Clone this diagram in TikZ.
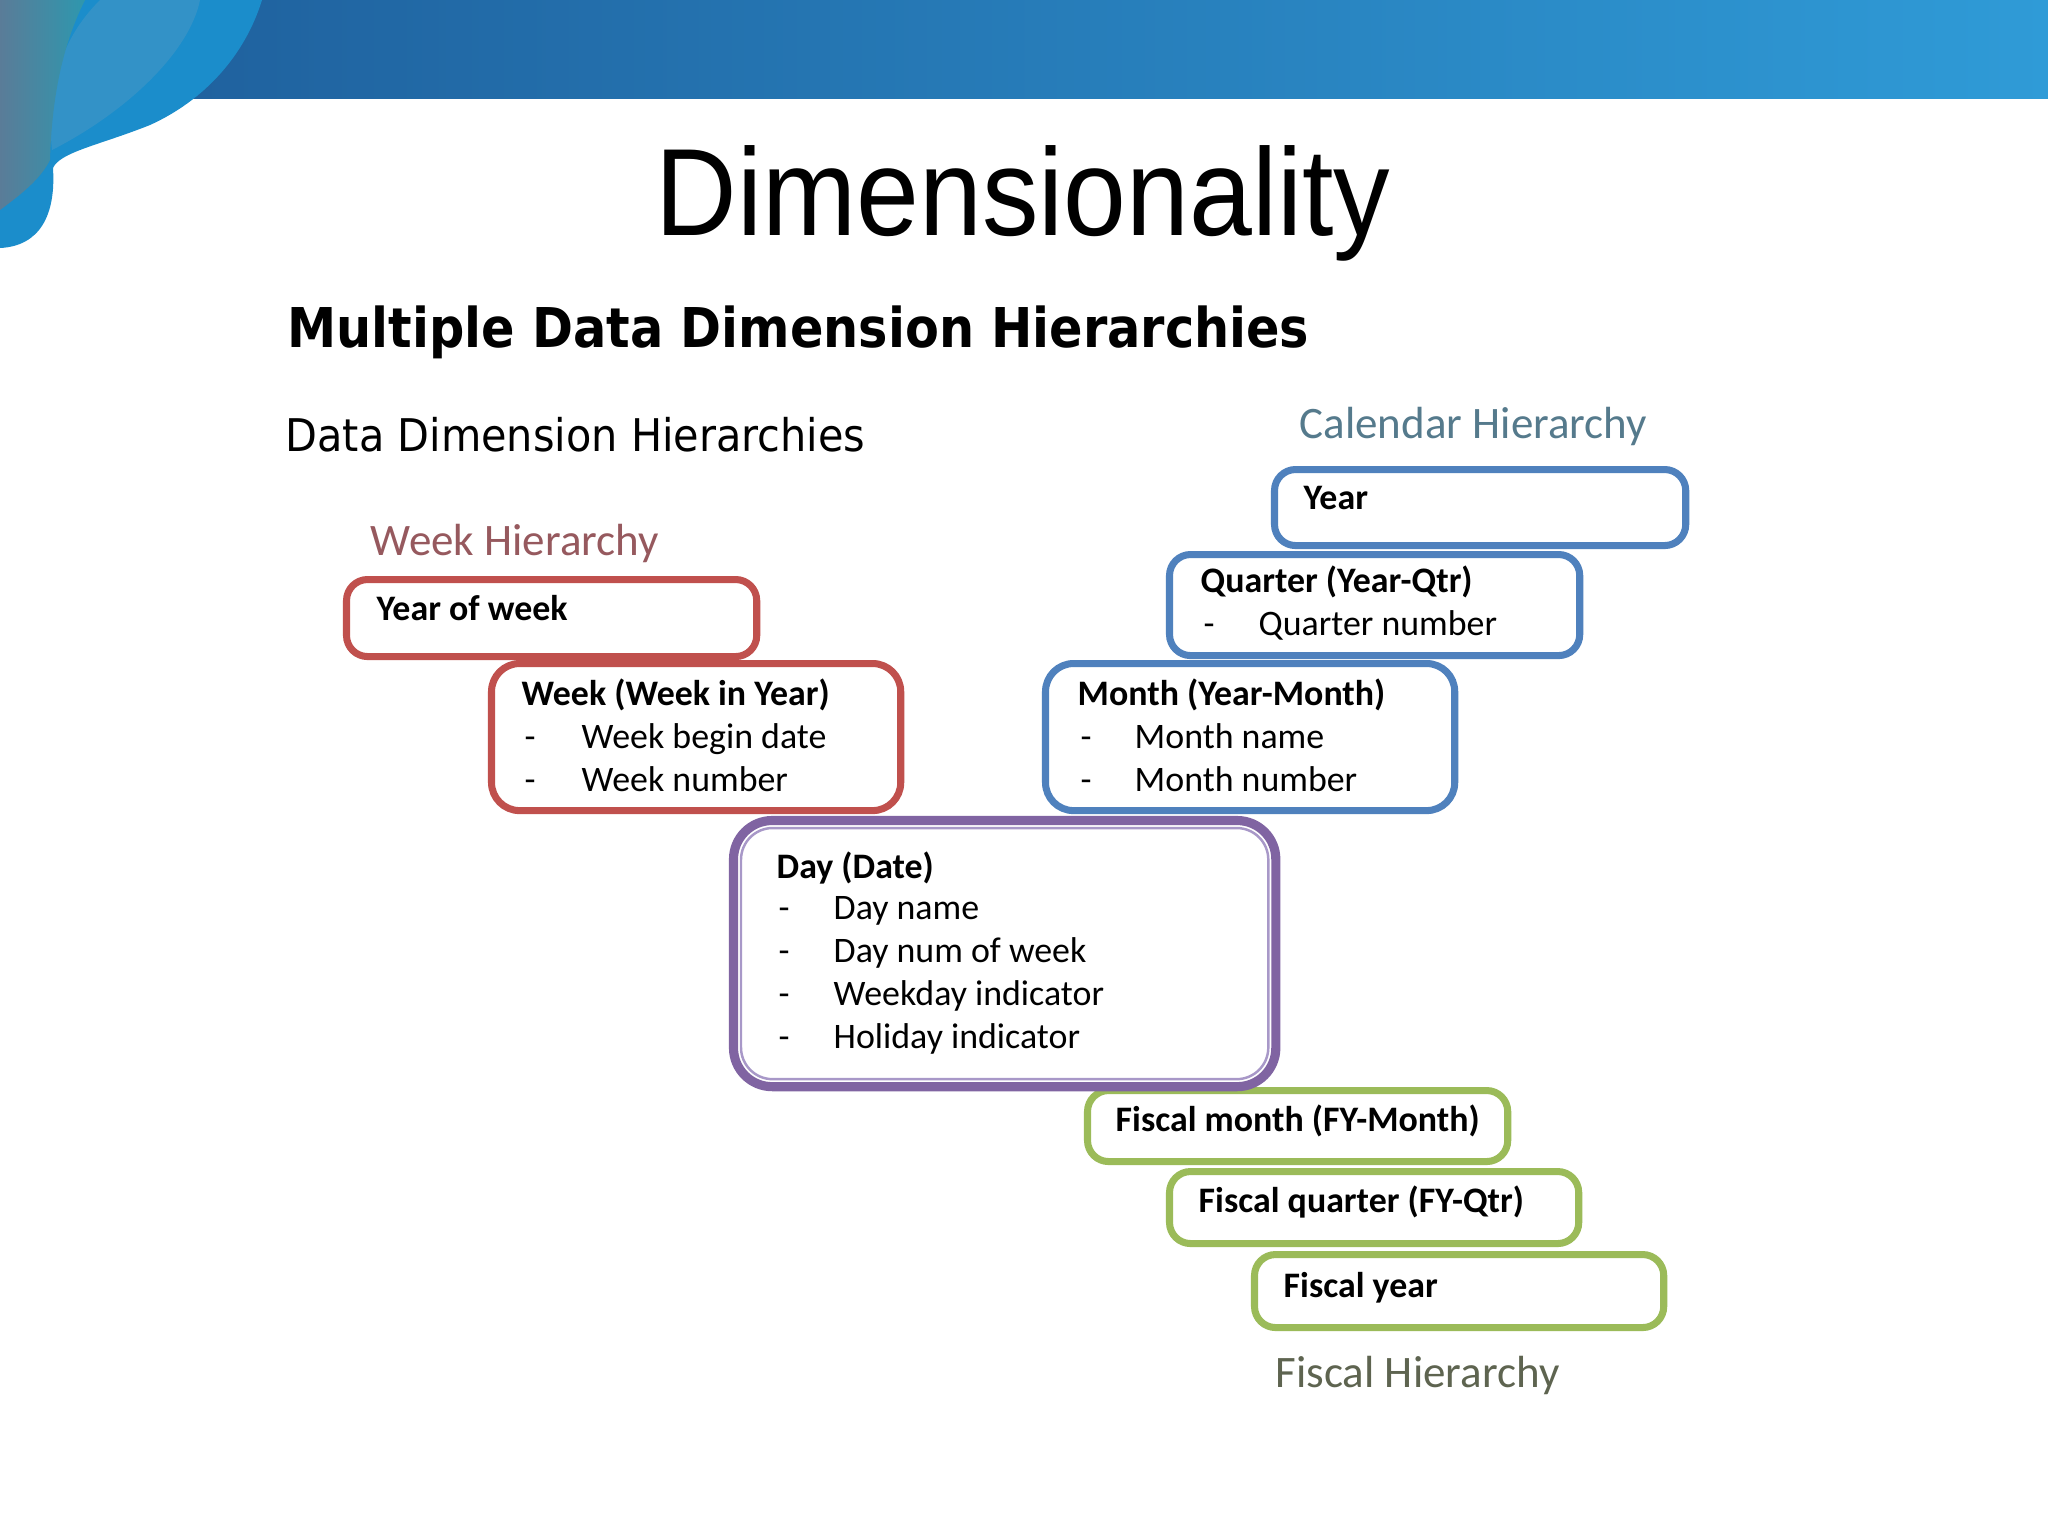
\documentclass[tikz,border=0pt]{standalone}
\usepackage{graphicx}
\usepackage{fontspec}
\setmainfont{Carlito}
\newfontfamily\titlefont{Liberation Sans}
\newfontfamily\headfont{DejaVu Sans}
\usetikzlibrary{positioning}

\definecolor{bandL}{HTML}{1E5C99}
\definecolor{bandR}{HTML}{2F9BD7}
\definecolor{swblue}{HTML}{1B8DCB}
\definecolor{swlight}{HTML}{3E95C6}
\definecolor{swgreyL}{HTML}{5A7C98}
\definecolor{swgreyR}{HTML}{2E97AE}
\definecolor{wkred}{HTML}{C0504D}
\definecolor{calblue}{HTML}{4F81BD}
\definecolor{fisgreen}{HTML}{9BBB59}
\definecolor{daypurple}{HTML}{8064A2}
\definecolor{daylav}{HTML}{A898C8}
\definecolor{wklabel}{HTML}{96595E}
\definecolor{callabel}{HTML}{557A8C}
\definecolor{fislabel}{HTML}{5E6450}

\tikzset{
  hbox/.style={draw, fill=white, line width=2pt, rounded corners=6pt,
    inner sep=0pt, outer sep=0pt, anchor=north west},
  wkbox/.style={hbox, draw=wkred},
  calbox/.style={hbox, draw=calblue},
  fisbox/.style={hbox, draw=fisgreen},
  boxtitle/.style={font=\fontsize{10.2}{12}\selectfont\bfseries,
    anchor=base west, inner sep=0pt},
  boxitem/.style={font=\fontsize{10.2}{12}\selectfont,
    anchor=base west, inner sep=0pt},
  hierlabel/.style={font=\fontsize{12.8}{15}\selectfont,
    anchor=base west, inner sep=0pt},
}

\begin{document}
\begin{tikzpicture}[x=0.01cm, y=-0.01cm]
\useasboundingbox (0,0) rectangle (2048,1535);
\fill[white] (0,0) rectangle (2048,1535);

% header band and swoosh
\shade[left color=bandL, right color=bandR] (0,0) rectangle (2048,98);
\fill[swblue] (40,0) -- (262,0) .. controls (245,55) and (205,100) .. (150,125)
  .. controls (100,145) and (60,152) .. (53,168)
  .. controls (56,215) and (40,246) .. (0,248) -- (0,0) -- cycle;
\fill[swlight, opacity=0.7] (100,0) -- (200,0) .. controls (190,50) and (130,110) .. (52,150)
  .. controls (46,90) and (60,40) .. (100,0) -- cycle;
\shade[left color=swgreyL, right color=swgreyR] (0,0) -- (85,0)
  .. controls (65,40) and (52,90) .. (50,160)
  .. controls (40,180) and (20,195) .. (0,210) -- cycle;

% headings
\node[font=\titlefont\fontsize{35.3}{40}\selectfont, anchor=base, inner sep=0pt]
  (title) at (1023,235) {\scalebox{0.91}[1]{Dimensionality}};
\node[font=\headfont\bfseries\fontsize{15.6}{18}\selectfont, anchor=base west, inner sep=0pt]
  (subtitle) at (287,347) {\scalebox{0.9}[1]{Multiple Data Dimension Hierarchies}};
\node[font=\headfont\fontsize{12.8}{15}\selectfont, anchor=base west, inner sep=0pt]
  (ddh) at (285,451) {\scalebox{0.92}[1]{Data Dimension Hierarchies}};

% Week hierarchy
\node[hierlabel, text=wklabel] (wklab) at (370,555) {Week Hierarchy};
\node[wkbox, minimum width=4.10cm, minimum height=0.77cm] (yearwk) at (346.5,579.5) {};
\node[wkbox, rounded corners=8pt, minimum width=4.09cm, minimum height=1.47cm] (week) at (491.5,663.5) {};
\node[boxtitle] (yearwkt) at (376,620) {Year of week};
\node[boxtitle] (weekt) at (521,705) {Week (Week in Year)};
\foreach \t [count=\i] in {Week begin date, Week number} {
  \node[boxitem] (weekd\i) at (524,705+43*\i) {-};
  \node[boxitem] (weeki\i) at (581,705+43*\i) {\t};
}

% Calendar hierarchy
\node[hierlabel, text=callabel] (callab) at (1299,438) {Calendar Hierarchy};
\node[calbox, minimum width=4.11cm, minimum height=0.76cm] (year) at (1274.5,469.5) {};
\node[calbox, minimum width=4.10cm, minimum height=1.01cm] (quarter) at (1169.5,554.5) {};
\node[calbox, rounded corners=8pt, minimum width=4.09cm, minimum height=1.47cm] (month) at (1045.5,663.5) {};
\node[boxtitle] (yeart) at (1303,509) {Year};
\node[boxtitle] (quartert) at (1200,592) {Quarter (Year-Qtr)};
\node[boxitem] (quarterd1) at (1203,635) {-};
\node[boxitem] (quarteri1) at (1258,635) {Quarter number};
\node[boxtitle] (montht) at (1077,705) {Month (Year-Month)};
\foreach \t [count=\i] in {Month name, Month number} {
  \node[boxitem] (monthd\i) at (1080,705+43*\i) {-};
  \node[boxitem] (monthi\i) at (1134,705+43*\i) {\t};
}

% Fiscal hierarchy
\node[fisbox, minimum width=4.20cm, minimum height=0.71cm] (fmonth) at (1087.5,1090.5) {};
\node[fisbox, minimum width=4.09cm, minimum height=0.72cm] (fqtr) at (1169.5,1171.5) {};
\node[fisbox, minimum width=4.09cm, minimum height=0.73cm] (fyear) at (1254.5,1254.5) {};
\node[boxtitle] (fmontht) at (1115,1131) {Fiscal month (FY-Month)};
\node[boxtitle] (fqtrt) at (1198,1212) {Fiscal quarter (FY-Qtr)};
\node[boxtitle] (fyeart) at (1283,1297) {Fiscal year};
\node[hierlabel, text=fislabel] (fislab) at (1275,1387) {Fiscal Hierarchy};

% Day box in the middle
\node[hbox, draw=daypurple, line width=2.6pt, rounded corners=11pt,
  minimum width=5.42cm, minimum height=2.66cm] (day) at (733.5,820.5) {};
\node[hbox, draw=daylav, line width=0.7pt, rounded corners=9pt,
  minimum width=5.27cm, minimum height=2.51cm] (dayin) at (741,828) {};
\node[boxtitle] (dayt) at (776,878) {Day (Date)};
\foreach \t [count=\i] in {Day name, Day num of week, Weekday indicator, Holiday indicator} {
  \node[boxitem] (dayd\i) at (778,876+43*\i) {-};
  \node[boxitem] (dayi\i) at (833,876+43*\i) {\t};
}
\end{tikzpicture}
\end{document}
